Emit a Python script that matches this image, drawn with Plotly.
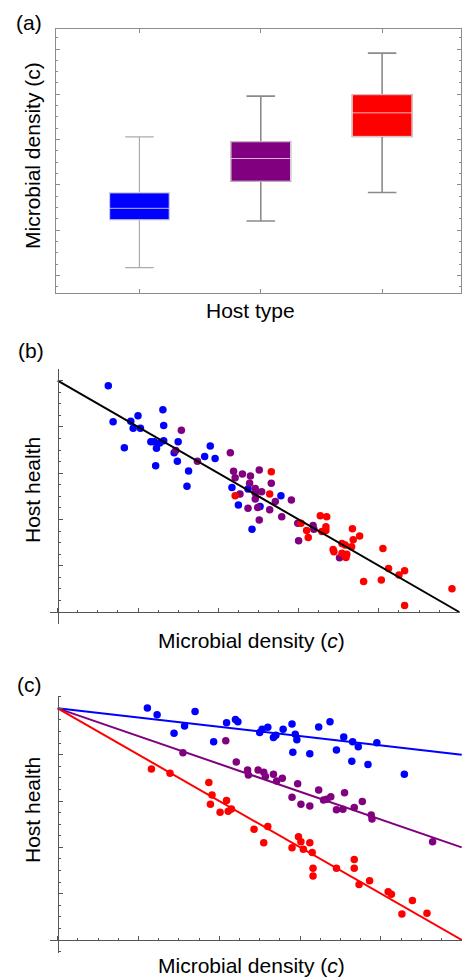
import numpy as np
import plotly.graph_objects as go

W, H = 462, 978
FONT = "Liberation Sans, Arial, sans-serif"

# ---------------- data ----------------
# Panel (a): box plot of microbial density by host type
hosts = [1, 2, 3]
host_colors = ["#0000ff", "#800080", "#ff0000"]
box_lower = [1.17, 2.20, 2.83]
box_q1 = [2.23, 3.08, 4.07]
box_median = [2.48, 3.58, 4.59]
box_q3 = [2.82, 3.95, 4.99]
box_upper = [4.06, 4.96, 5.91]

# Panel (b): host health vs microbial density (single common relationship)
b_blue_x = [0.63, 0.69, 0.83, 0.91, 1.00, 0.94, 1.03, 1.31, 1.32, 1.16, 1.20, 1.27, 1.32, 1.23, 1.22,
            1.45, 1.50, 1.49, 1.63, 1.61, 1.83, 1.90, 1.96, 2.17, 2.25, 2.37, 2.52, 2.42, 2.78]
b_blue_y = [4.89, 4.11, 3.55, 4.12, 4.24, 3.97, 3.97, 4.37, 4.03, 3.68, 3.68, 3.65, 3.70, 3.54, 3.16,
            3.44, 3.68, 3.26, 3.05, 2.72, 3.36, 3.59, 3.32, 2.69, 2.31, 2.66, 2.28, 1.79, 2.51]
b_purple_x = [1.54, 1.47, 1.74, 2.15, 2.19, 2.21, 2.30, 2.40, 2.51, 2.39, 2.66, 2.46, 2.54, 2.46,
              2.27, 2.91, 2.71, 2.46, 2.37, 2.49, 2.64, 2.79, 2.51, 2.99, 3.18, 3.19, 3.00, 3.51]
b_purple_y = [3.93, 3.49, 3.26, 3.44, 3.04, 2.90, 2.98, 2.94, 3.07, 2.78, 2.78, 2.67, 2.60, 2.57,
              2.55, 2.42, 2.39, 2.44, 2.24, 2.26, 2.21, 2.06, 1.99, 1.92, 1.87, 1.79, 1.54, 1.17]
b_red_x = [2.66, 2.64, 2.21, 3.03, 3.10, 3.12, 3.27, 3.35, 3.34, 3.29, 3.34, 3.67, 3.76, 3.68, 3.54,
           3.58, 3.66, 3.43, 3.44, 3.60, 3.54, 3.59, 4.05, 4.12, 4.25, 4.32, 4.03, 3.81, 4.91, 4.32]
b_red_y = [3.03, 2.55, 2.51, 1.92, 1.76, 1.61, 2.08, 2.06, 1.84, 1.74, 1.76, 1.80, 1.64, 1.56, 1.48,
           1.45, 1.41, 1.35, 1.30, 1.25, 1.27, 1.18, 1.37, 0.94, 0.80, 0.89, 0.69, 0.66, 0.50, 0.14]
b_intercept = 5.0
b_slope = -1.0

# Panel (c): host health vs microbial density, one relationship per host type
c_blue_x = [1.11, 1.23, 1.44, 1.57, 1.70, 1.93, 2.09, 2.20, 2.23, 2.50, 2.53, 2.60, 2.67, 2.70, 2.79,
            2.90, 2.94, 2.96, 2.91, 3.12, 3.23, 3.37, 3.45, 3.54, 3.64, 3.65, 3.72, 3.84, 3.95, 4.29]
c_blue_y = [5.01, 4.86, 4.46, 4.62, 4.93, 4.28, 4.69, 4.76, 4.71, 4.48, 4.55, 4.59, 4.37, 4.42, 4.55,
            4.66, 4.44, 4.32, 4.05, 4.02, 4.60, 4.71, 4.10, 4.38, 3.86, 4.28, 4.17, 3.79, 4.26, 3.58]
c_purple_x = [2.08, 1.55, 2.21, 2.35, 2.36, 2.48, 2.55, 2.57, 2.67, 2.71, 2.78, 2.97, 2.90, 3.01,
              3.12, 3.23, 3.29, 3.33, 3.38, 3.45, 3.53, 3.55, 3.67, 3.77, 3.88, 3.89, 4.64]
c_purple_y = [4.30, 4.04, 3.84, 3.67, 3.56, 3.67, 3.62, 3.53, 3.58, 3.43, 3.49, 3.37, 3.08, 2.93,
              2.89, 3.24, 3.02, 3.04, 3.09, 2.81, 2.82, 3.18, 2.86, 2.99, 2.70, 2.61, 2.12]
c_red_x = [1.16, 1.39, 1.87, 1.91, 2.09, 1.89, 2.01, 2.11, 2.15, 2.43, 2.60, 2.55, 2.98, 3.01, 3.12,
           2.90, 3.04, 3.15, 3.45, 3.16, 3.16, 3.67, 3.67, 3.86, 3.73, 4.09, 4.13, 4.39, 4.26, 4.57]
c_red_y = [3.69, 3.60, 3.40, 3.13, 3.01, 2.93, 2.76, 2.78, 2.83, 2.39, 2.45, 2.10, 2.23, 2.12, 2.10,
           1.99, 1.96, 1.89, 1.55, 1.55, 1.38, 1.74, 1.55, 1.28, 1.20, 1.04, 0.99, 0.85, 0.56, 0.58]
c_intercept = 5.0
c_slopes = [-0.2, -0.6, -1.0]

# ---------------- figure ----------------
def px_x(p):
    return p / W

def px_y(p):
    return 1 - p / H

fig = go.Figure()

# Panel (a): whiskers (gray) then coloured boxes with white median
whisk_colors = ["#aaaaaa", "#8a8a8a", "#8a8a8a"]
whisk_widths = [1.2, 1.6, 1.6]
for i in range(3):
    fig.add_trace(go.Box(
        x=[hosts[i]], q1=[box_q1[i]], median=[box_median[i]], q3=[box_q3[i]],
        lowerfence=[box_lower[i]], upperfence=[box_upper[i]],
        width=0.49, whiskerwidth=0.48, fillcolor=host_colors[i],
        line=dict(color=whisk_colors[i], width=whisk_widths[i]),
        xaxis="x", yaxis="y", showlegend=False, hoverinfo="skip"))
for i in range(3):
    fig.add_trace(go.Box(
        x=[hosts[i]], q1=[box_q1[i]], median=[box_median[i]], q3=[box_q3[i]],
        lowerfence=[box_q1[i]], upperfence=[box_q3[i]],
        width=0.49, whiskerwidth=0, fillcolor=host_colors[i],
        line=dict(color="rgba(255,255,255,0.7)", width=1),
        xaxis="x", yaxis="y", showlegend=False, hoverinfo="skip"))

MS = 7.5
# Panel (b)
for xs, ys, col in [(b_blue_x, b_blue_y, host_colors[0]),
                    (b_purple_x, b_purple_y, host_colors[1]),
                    (b_red_x, b_red_y, host_colors[2])]:
    fig.add_trace(go.Scatter(x=xs, y=ys, mode="markers", xaxis="x2", yaxis="y2",
                             marker=dict(color=col, size=MS), showlegend=False))
lx = np.array([0.0, -b_intercept / b_slope])
fig.add_trace(go.Scatter(x=lx, y=b_intercept + b_slope * lx, mode="lines",
                         xaxis="x2", yaxis="y2", line=dict(color="black", width=2),
                         showlegend=False))

# Panel (c)
for xs, ys, col in [(c_blue_x, c_blue_y, host_colors[0]),
                    (c_purple_x, c_purple_y, host_colors[1]),
                    (c_red_x, c_red_y, host_colors[2])]:
    fig.add_trace(go.Scatter(x=xs, y=ys, mode="markers", xaxis="x3", yaxis="y3",
                             marker=dict(color=col, size=MS), showlegend=False))
for s, col in zip(c_slopes, host_colors):
    lx = np.array([0.0, 5.0])
    fig.add_trace(go.Scatter(x=lx, y=c_intercept + s * lx, mode="lines",
                             xaxis="x3", yaxis="y3", line=dict(color=col, width=2),
                             showlegend=False))

frame_col = "#8c8c8c"
axis_col = "#555555"

common = dict(showgrid=False, zeroline=False, showticklabels=False)

# b/c ranges
b_xr = [(50 - 57.7) / 80.3, (460 - 57.7) / 80.3]
b_yr = [(612 - 624) / 46.27, (612 - 369) / 46.27]
c_xr = [(50 - 57.7) / 80.8, (462 - 57.7) / 80.8]
c_yr = [(940 - 952.7) / 46.33, (940 - 695.7) / 46.33]

fig.update_layout(
    width=W, height=H, autosize=False,
    margin=dict(l=0, r=0, t=0, b=0),
    paper_bgcolor="white", plot_bgcolor="rgba(0,0,0,0)",
    font=dict(family=FONT, size=21, color="black"),
    boxmode="overlay",
    xaxis=dict(domain=[px_x(55.7), px_x(461)], range=[0.31, 3.65], anchor="y",
               tickmode="array", tickvals=hosts, ticks="inside", ticklen=4,
               tickcolor=frame_col, showline=True, linecolor=frame_col, linewidth=1,
               mirror="ticks", **common),
    yaxis=dict(domain=[px_y(292.7), px_y(29)], range=[0.616, 6.442], anchor="x",
               tick0=1, dtick=1, ticks="inside", ticklen=4, tickcolor=frame_col,
               minor=dict(dtick=0.25, ticks="inside", ticklen=2.5, tickcolor=frame_col),
               showline=True, linecolor=frame_col, linewidth=1, mirror="ticks", **common),
    xaxis2=dict(domain=[px_x(50), px_x(460)], range=b_xr, anchor="free",
                position=px_y(612), tick0=0, dtick=1, ticks="inside", ticklen=4,
                tickcolor=axis_col,
                minor=dict(dtick=0.25, ticks="inside", ticklen=2.5, tickcolor=axis_col),
                showline=True, linecolor=axis_col, linewidth=1, **common),
    yaxis2=dict(domain=[px_y(624), px_y(369)], range=b_yr, anchor="free",
                position=px_x(57.7), tick0=0, dtick=1, ticks="inside", ticklen=4,
                tickcolor=axis_col,
                minor=dict(dtick=0.25, ticks="inside", ticklen=2.5, tickcolor=axis_col),
                showline=True, linecolor=axis_col, linewidth=1, **common),
    xaxis3=dict(domain=[px_x(50), px_x(462)], range=c_xr, anchor="free",
                position=px_y(940), tick0=0, dtick=1, ticks="inside", ticklen=4,
                tickcolor=axis_col,
                minor=dict(dtick=0.25, ticks="inside", ticklen=2.5, tickcolor=axis_col),
                showline=True, linecolor=axis_col, linewidth=1, **common),
    yaxis3=dict(domain=[px_y(952.7), px_y(695.7)], range=c_yr, anchor="free",
                position=px_x(57.7), tick0=0, dtick=1, ticks="inside", ticklen=4,
                tickcolor=axis_col,
                minor=dict(dtick=0.25, ticks="inside", ticklen=2.5, tickcolor=axis_col),
                showline=True, linecolor=axis_col, linewidth=1, **common),
)

def note(text, x, y, angle=0):
    fig.add_annotation(text=text, x=px_x(x), y=px_y(y), xref="paper", yref="paper",
                       xanchor="center", yanchor="middle", showarrow=False,
                       textangle=angle, font=dict(family=FONT, size=21, color="black"))

note("(a)", 29, 22)
note("(b)", 31, 350)
note("(c)", 29.5, 684)
note("Microbial density (c)", 33, 156, -90)
note("Host type", 250, 310)
note("Host health", 32, 490, -90)
note("Microbial density (<i>c</i>)", 251, 640)
note("Host health", 32, 810, -90)
note("Microbial density (<i>c</i>)", 251, 965)

fig.write_html("out.html", config={"responsive": False, "displayModeBar": False},
               post_script="document.body.style.margin='0';document.body.style.overflow='hidden';")
